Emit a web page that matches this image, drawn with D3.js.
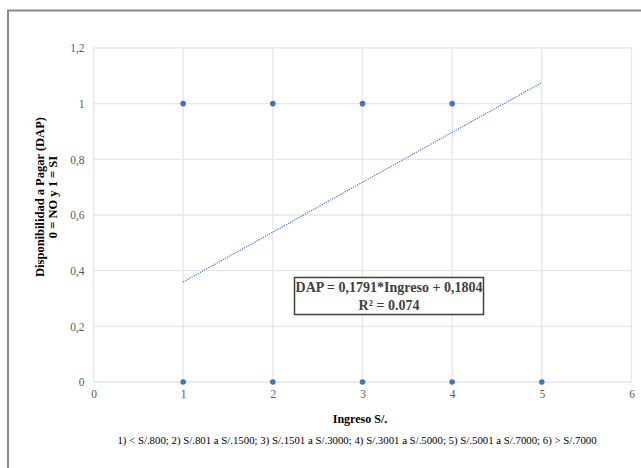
<!DOCTYPE html>
<html><head><meta charset="utf-8">
<script src="https://cdn.jsdelivr.net/npm/d3@7"></script>
<style>body{margin:0;background:#fff}svg{display:block}</style>
</head><body>
<script>
const ingreso = [1, 2, 3, 4, 1, 2, 3, 4, 5];
const dap     = [1, 1, 1, 1, 0, 0, 0, 0, 0];
const xTicks = [0, 1, 2, 3, 4, 5, 6];
const yTicks = [0, 0.2, 0.4, 0.6, 0.8, 1, 1.2];
const trendSlope = 0.1791, trendIntercept = 0.1804;
const trendRange = [1, 5];
const eqLine1 = "DAP = 0,1791*Ingreso + 0,1804";
const eqLine2 = "R² = 0.074";
const yTitle1 = "Disponibilidad a Pagar (DAP)";
const yTitle2 = "0 = NO y 1 = SI";
const xTitle = "Ingreso S/.";
const footnote = "1) < S/.800; 2) S/.801 a S/.1500; 3) S/.1501 a S/.3000; 4) S/.3001 a S/.5000; 5) S/.5001 a S/.7000; 6) > S/.7000";

const W = 641, H = 468;
const svg = d3.select("body").append("svg").attr("width", W).attr("height", H);
svg.append("rect").attr("x", 8).attr("y", 10.5).attr("width", 700).attr("height", 500)
  .attr("fill", "none").attr("stroke", "#8a8a8a").attr("stroke-width", 2);

const x = d3.scaleLinear().domain([0, 6]).range([93.5, 631.5]);
const y = d3.scaleLinear().domain([0, 1.2]).range([382, 48]);
const fmt = d => d === 0 ? "0" : d3.format(",.1~f")(d).replace(".", ",");
const serif = "'Liberation Serif','Times New Roman',serif";

// gridlines
svg.append("g").selectAll("line").data(yTicks).join("line")
  .attr("x1", x(0)).attr("x2", x(6)).attr("y1", d => y(d)).attr("y2", d => y(d))
  .attr("stroke", "#e6e6e6").attr("stroke-width", 1.3);
svg.append("g").selectAll("line").data(xTicks).join("line")
  .attr("y1", y(0)).attr("y2", y(1.2)).attr("x1", d => x(d)).attr("x2", d => x(d))
  .attr("stroke", "#e6e6e6").attr("stroke-width", 1.3);

// axes (labels only)
const yAxis = svg.append("g").attr("transform", `translate(${x(0)},0)`)
  .call(d3.axisLeft(y).tickValues(yTicks).tickFormat(fmt).tickSize(0).tickPadding(9));
const xAxis = svg.append("g").attr("transform", `translate(0,${y(0)})`)
  .call(d3.axisBottom(x).tickValues(xTicks).tickFormat(d3.format("d")).tickSize(0).tickPadding(8));
[yAxis, xAxis].forEach(g => {
  g.select(".domain").remove();
  g.selectAll("text").attr("fill", "#595959").style("font-family", serif).style("font-size", "11.5px");
});

// trendline
svg.append("line")
  .attr("x1", x(trendRange[0])).attr("y1", y(trendSlope * trendRange[0] + trendIntercept))
  .attr("x2", x(trendRange[1])).attr("y2", y(trendSlope * trendRange[1] + trendIntercept))
  .attr("stroke", "#4472c4").attr("stroke-width", 1.2).attr("stroke-dasharray", "1.2,1.2");

// points
svg.append("g").selectAll("circle").data(ingreso.map((v, i) => [v, dap[i]])).join("circle")
  .attr("cx", d => x(d[0])).attr("cy", d => y(d[1])).attr("r", 2.8).attr("fill", "#4472c4");

// equation box
svg.append("rect").attr("x", 294.5).attr("y", 277.5).attr("width", 189).attr("height", 37)
  .attr("fill", "#fff").attr("stroke", "#404040").attr("stroke-width", 1.5);
const eq = svg.append("text").attr("text-anchor", "middle").style("font-family", serif)
  .style("font-weight", "bold").style("font-size", "14px").attr("fill", "#404040");
eq.append("tspan").attr("x", 389).attr("y", 292).text(eqLine1);
eq.append("tspan").attr("x", 389).attr("y", 310).text(eqLine2);

// y title
const yt = svg.append("text").attr("transform", "translate(0,197) rotate(-90)")
  .attr("text-anchor", "middle").style("font-family", serif).style("font-weight", "bold")
  .style("font-size", "12.5px").attr("fill", "#000");
yt.append("tspan").attr("x", 0).attr("y", 44).text(yTitle1);
yt.append("tspan").attr("x", 0).attr("y", 57).text(yTitle2);

// x title & footnote
svg.append("text").attr("x", 360).attr("y", 423).attr("text-anchor", "middle")
  .style("font-family", serif).style("font-weight", "bold").style("font-size", "12px").text(xTitle);
svg.append("text").attr("x", 357).attr("y", 444).attr("text-anchor", "middle")
  .style("font-family", serif).style("font-size", "10.8px").text(footnote);
</script>
</body></html>
